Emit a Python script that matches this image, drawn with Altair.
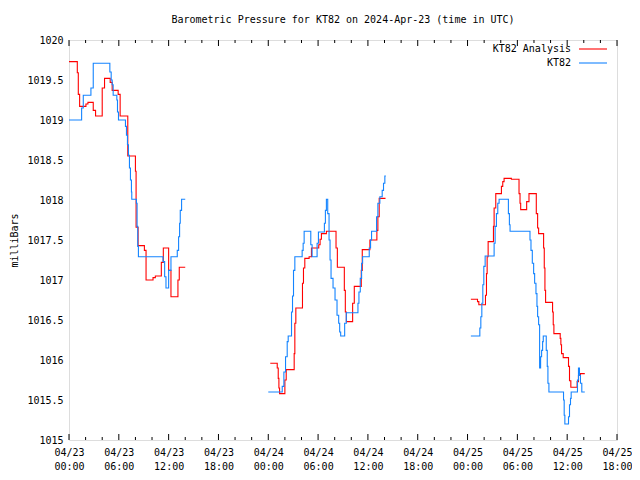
import altair as alt
import pandas as pd

TITLE = "Barometric Pressure for KT82 on 2024-Apr-23 (time in UTC)"
SERIES = ["KT82 Analysis", "KT82"]
COLORS = ["#ff0000", "#1484ff"]
START = "2024-04-23T00:00:00"
FONT = "DejaVu Sans Mono"

# hours after 2024-04-23 00:00 UTC and pressure (mb)
an1_h = [0.00, 1.00, 1.12, 1.28, 2.04, 2.28, 2.92, 3.20, 4.00, 4.28, 4.96, 5.20, 5.92, 6.16, 7.08,
         8.00, 8.08, 8.32, 9.08, 9.28, 10.12, 10.40, 11.12, 11.36, 12.00, 12.28, 13.12, 13.28, 14.00]
an1_v = [1019.73, 1019.59, 1019.32, 1019.17, 1019.20, 1019.22, 1019.12, 1019.05, 1019.40, 1019.52,
         1019.47, 1019.37, 1019.32, 1019.05, 1018.55, 1018.36, 1017.66, 1017.43, 1017.37, 1017.00,
         1017.03, 1017.05, 1017.22, 1017.40, 1017.12, 1016.79, 1017.00, 1017.16, 1017.16]

bl1_h = [0.00, 1.52, 1.72, 2.64, 2.92, 4.92, 5.08, 5.20, 5.32, 5.76, 5.84, 5.96, 6.80, 6.92, 7.04,
         7.16, 7.28, 7.40, 7.52, 7.56, 8.12, 8.20, 8.28, 8.36, 11.32, 11.52, 11.68, 12.00, 12.28,
         13.04, 13.20, 13.32, 13.40, 13.56, 14.00]
bl1_v = [1019.00, 1019.15, 1019.31, 1019.40, 1019.71, 1019.60, 1019.50, 1019.44, 1019.31, 1019.25,
         1019.10, 1019.00, 1018.92, 1018.81, 1018.69, 1018.56, 1018.40, 1018.25, 1018.10, 1018.01,
         1017.96, 1017.67, 1017.42, 1017.29, 1017.23, 1017.04, 1016.90, 1017.12, 1017.29, 1017.37,
         1017.54, 1017.71, 1017.87, 1018.01, 1018.01]

an2_h = [24.24, 25.08, 25.20, 25.28, 25.36, 26.00, 26.16, 27.12, 27.20, 27.32, 28.12, 28.24, 28.40,
         28.92, 29.20, 30.08, 30.24, 30.40, 31.00, 32.16, 32.32, 33.16, 33.28, 33.40, 34.16, 34.36,
         35.20, 35.32, 36.24, 37.08, 37.20, 37.36, 38.12]
an2_v = [1015.96, 1015.90, 1015.77, 1015.65, 1015.58, 1015.75, 1015.88, 1016.08, 1016.46, 1016.65,
         1016.96, 1017.15, 1017.27, 1017.29, 1017.40, 1017.44, 1017.51, 1017.58, 1017.61, 1017.40,
         1017.16, 1016.87, 1016.60, 1016.48, 1016.71, 1016.92, 1017.12, 1017.38, 1017.50, 1017.62,
         1017.79, 1018.02, 1018.02]

bl2_h = [24.00, 25.68, 25.88, 26.08, 26.28, 26.40, 26.80, 26.92, 27.04, 27.20, 28.08, 28.20, 28.32,
         29.12, 29.28, 29.88, 30.04, 30.76, 30.88, 31.00, 31.16, 31.32, 31.44, 31.56, 31.80, 32.04,
         32.28, 32.48, 32.60, 32.72, 33.20, 33.40, 34.80, 34.92, 35.08, 35.24, 35.36, 36.16, 36.32,
         36.44, 37.04, 37.20, 37.44, 37.72, 37.88, 38.04, 38.16]
bl2_v = [1015.60, 1015.67, 1015.85, 1016.04, 1016.23, 1016.30, 1016.60, 1016.80, 1017.12, 1017.29,
         1017.37, 1017.46, 1017.61, 1017.44, 1017.29, 1017.46, 1017.60, 1017.71, 1017.87, 1018.01,
         1017.83, 1017.50, 1017.25, 1017.02, 1016.90, 1016.75, 1016.56, 1016.46, 1016.35, 1016.30,
         1016.46, 1016.59, 1016.71, 1016.85, 1017.02, 1017.21, 1017.29, 1017.40, 1017.50, 1017.61,
         1017.79, 1017.96, 1018.04, 1018.12, 1018.21, 1018.30, 1018.30]

an3_h = [48.40, 49.20, 49.36, 50.16, 50.28, 50.36, 50.48, 51.12, 51.20, 51.40, 52.08, 52.24, 52.40,
         53.28, 54.20, 54.32, 54.40, 55.12, 55.40, 56.28, 56.44, 56.56, 57.16, 57.24, 57.32, 57.40,
         58.24, 58.32, 58.40, 59.16, 59.24, 59.32, 59.52, 60.16, 60.28, 60.44, 61.20, 61.36, 61.60,
         62.12]
an3_v = [1016.76, 1016.73, 1016.69, 1016.81, 1017.08, 1017.29, 1017.48, 1017.67, 1017.90, 1018.08,
         1018.17, 1018.23, 1018.27, 1018.26, 1018.08, 1017.96, 1017.88, 1017.98, 1018.08, 1017.83,
         1017.65, 1017.58, 1017.40, 1017.15, 1016.87, 1016.72, 1016.60, 1016.44, 1016.33, 1016.27,
         1016.19, 1016.08, 1016.03, 1015.92, 1015.74, 1015.66, 1015.73, 1015.81, 1015.83, 1015.83]

bl3_h = [48.40, 49.48, 49.60, 49.72, 49.84, 49.96, 50.12, 51.20, 51.32, 51.48, 51.64, 51.80, 52.92,
         53.04, 53.12, 55.52, 55.64, 55.80, 55.96, 56.08, 56.24, 56.36, 56.44, 56.56, 56.68, 56.80,
         56.92, 57.04, 57.12, 57.48, 57.60, 57.68, 57.80, 59.56, 59.64, 59.72, 60.16, 60.28, 60.40,
         60.48, 61.24, 61.36, 61.48, 61.60, 61.76, 62.12]
bl3_v = [1016.30, 1016.40, 1016.54, 1016.71, 1016.94, 1017.17, 1017.30, 1017.46, 1017.67, 1017.83,
         1017.96, 1018.01, 1017.83, 1017.69, 1017.61, 1017.50, 1017.37, 1017.21, 1017.08, 1016.96,
         1016.83, 1016.67, 1016.54, 1016.44, 1015.90, 1016.04, 1016.12, 1016.23, 1016.30, 1016.12,
         1015.92, 1015.71, 1015.60, 1015.50, 1015.31, 1015.20, 1015.29, 1015.44, 1015.52, 1015.60,
         1015.75, 1015.90, 1015.81, 1015.71, 1015.60, 1015.60]

major_h = list(range(0, 67, 6))
minor_h = [h for h in range(0, 67, 2) if h % 6 != 0]
y_ticks = [1015 + 0.5 * i for i in range(11)]


def stamp(hours):
    ts = pd.Timestamp(START) + pd.to_timedelta(hours, unit="h")
    return list(ts.strftime("%Y-%m-%dT%H:%M:%SZ"))


def frame(hours, vals, series, seg):
    return pd.DataFrame({"t": stamp(hours), "p": vals, "series": series, "seg": seg})


data = pd.concat([
    frame(an1_h, an1_v, SERIES[0], "a1"),
    frame(an2_h, an2_v, SERIES[0], "a2"),
    frame(an3_h, an3_v, SERIES[0], "a3"),
    frame(bl1_h, bl1_v, SERIES[1], "b1"),
    frame(bl2_h, bl2_v, SERIES[1], "b2"),
    frame(bl3_h, bl3_v, SERIES[1], "b3"),
], ignore_index=True)

W, H = 548, 400
PAD_L, PAD_T, PAD_R, PAD_B = 61, 32, 15, 32


def dt(h):
    return alt.DateTime(year=2024, month=4, date=23 + h // 24, hours=h % 24, utc=True)


xscale = alt.Scale(type="utc", domain=[dt(0), dt(66)])
color = alt.Color("series:N", scale=alt.Scale(domain=SERIES, range=COLORS), legend=None)

x_axis = alt.Axis(
    values=[dt(h) for h in major_h],
    labelExpr="[utcFormat(datum.value, '%m/%d'), utcFormat(datum.value, '%H:%M')]",
    ticks=False, domain=False, grid=False, labelPadding=7, labelLineHeight=14,
    labelFont=FONT, labelFontSize=10, labelColor="black", labelFlush=False,
    labelOverlap=False, title=None,
)
y_axis = alt.Axis(
    values=y_ticks, format="~f", ticks=False, domain=False, grid=False,
    labelPadding=6, labelFont=FONT, labelFontSize=10, labelColor="black",
    title="milliBars", titleFont=FONT, titleFontSize=10, titleFontWeight="normal",
    titleColor="black", titleX=-55, titleY=H / 2, titleAngle=270,
    titleAlign="center", titleBaseline="middle",
)

lines = alt.Chart(data).mark_line(interpolate="step-after", strokeWidth=1.1).encode(
    x=alt.X("t:T", scale=xscale, axis=x_axis),
    y=alt.Y("p:Q", scale=alt.Scale(domain=[1015, 1020], zero=False, nice=False), axis=y_axis),
    color=color,
    detail="seg:N",
)

maj = pd.DataFrame({"t": stamp(major_h)})
mnr = pd.DataFrame({"t": stamp(minor_h)})


def ticks(df, length):
    bottom = alt.Chart(df).mark_rule(color="black", strokeWidth=1).encode(
        x=alt.X("t:T", scale=xscale), y=alt.value(H), y2=alt.value(H - length))
    top = alt.Chart(df).mark_rule(color="black", strokeWidth=1).encode(
        x=alt.X("t:T", scale=xscale), y=alt.value(0), y2=alt.value(length))
    return [bottom, top]


leg_df = pd.DataFrame({"series": SERIES})
leg_y = alt.Y("series:N", axis=None,
              scale=alt.Scale(type="point", domain=SERIES, range=[9, 23], padding=0))
leg_text = alt.Chart(leg_df).mark_text(
    align="right", baseline="middle", font=FONT, fontSize=10, color="black"
).encode(x=alt.value(W - 46), y=leg_y, text="series:N")
leg_rule = alt.Chart(leg_df).mark_rule(strokeWidth=1.1).encode(
    x=alt.value(W - 38), x2=alt.value(W - 10), y=leg_y, color=color)

chart = alt.layer(
    lines, *ticks(maj, 6), *ticks(mnr, 3), leg_text, leg_rule
).resolve_scale(y="independent").properties(
    width=W, height=H,
    autosize=alt.AutoSizeParams(type="none"),
    padding={"left": PAD_L, "top": PAD_T, "right": PAD_R, "bottom": PAD_B},
    title=alt.Title(TITLE, font=FONT, fontSize=10, fontWeight="normal", color="black",
                    anchor="middle", offset=10),
).configure_view(stroke="black", strokeWidth=1).configure(background="white")

chart.save("out.html", embed_options={"renderer": "svg", "actions": False})
